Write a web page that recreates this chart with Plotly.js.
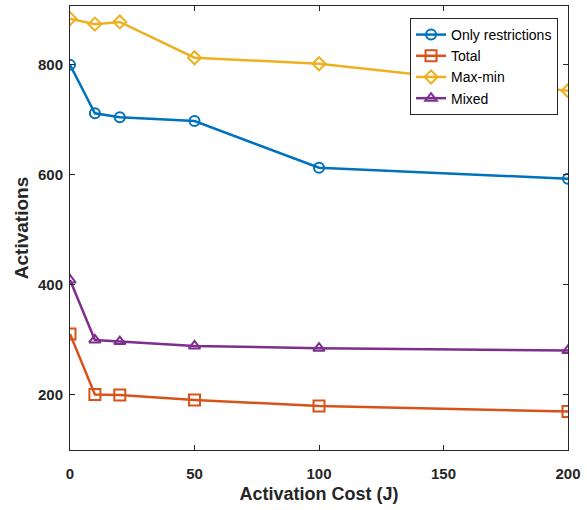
<!DOCTYPE html>
<html>
<head>
<meta charset="utf-8">
<script src="https://cdn.plot.ly/plotly-3.0.1.min.js"></script>
<style>html,body{margin:0;padding:0;background:#fff;}#chart{width:587px;height:510px;}</style>
</head>
<body>
<div id="chart"></div>
<script>
const costs = [0, 10, 20, 50, 100, 200];
const onlyRestrictions = [800, 712, 705, 698, 613, 593];
const total = [311, 201, 200, 191, 180, 170];
const maxMin = [884, 874, 878, 813, 802, 753];
const mixed = [409, 300, 297, 289, 285, 281];
const seriesNames = ["Only restrictions", "Total", "Max-min", "Mixed"];
const xTicks = [0, 50, 100, 150, 200];
const yTicks = [200, 400, 600, 800];

const colors = ["#0072BD", "#D95319", "#EDB120", "#7E2F8E"];
const symbols = ["circle-open", "square-open", "diamond-open", "triangle-up-open"];
const sizes = [10, 11, 10, 10];
const ys = [onlyRestrictions, total, maxMin, mixed];

const traces = ys.map((y, i) => ({
  x: costs, y: y, name: seriesNames[i], type: "scatter", mode: "lines+markers",
  line: {color: colors[i], width: 2.5},
  marker: {symbol: symbols[i], size: sizes[i], color: colors[i], line: {width: 2, color: colors[i]}}
}));

const FONT = "Liberation Sans, Arial, sans-serif";
const axisCommon = {
  showgrid: false, zeroline: false, showline: true, linecolor: "#262626", linewidth: 1,
  mirror: "allticks", ticks: "inside", ticklen: 5, tickcolor: "#262626",
  tickfont: {family: FONT, size: 15, color: "#262626", weight: "bold"}
};

const layout = {
  width: 587, height: 510,
  margin: {l: 70, r: 19, t: 6, b: 60},
  paper_bgcolor: "#fff", plot_bgcolor: "#fff",
  showlegend: true,
  legend: {
    x: 0.98, y: 0.973, xanchor: "right", yanchor: "top",
    bgcolor: "#fff", bordercolor: "#262626", borderwidth: 1,
    font: {family: FONT, size: 14, color: "#000"},
    tracegroupgap: 0, itemwidth: 30
  },
  xaxis: Object.assign({}, axisCommon, {
    range: [0, 200], tickvals: xTicks, ticktext: xTicks.map(String),
    ticklabelstandoff: 10,
    title: {text: "Activation Cost (J)", standoff: 6,
      font: {family: FONT, size: 18, color: "#262626", weight: "bold"}}
  }),
  yaxis: Object.assign({}, axisCommon, {
    range: [100, 907], tickvals: yTicks, ticktext: yTicks.map(String),
    ticklabelstandoff: 3,
    title: {text: "Activations", standoff: 4,
      font: {family: FONT, size: 19, color: "#262626", weight: "bold"}}
  })
};

Plotly.newPlot("chart", traces, layout, {displayModeBar: false, staticPlot: true});
</script>
</body>
</html>
